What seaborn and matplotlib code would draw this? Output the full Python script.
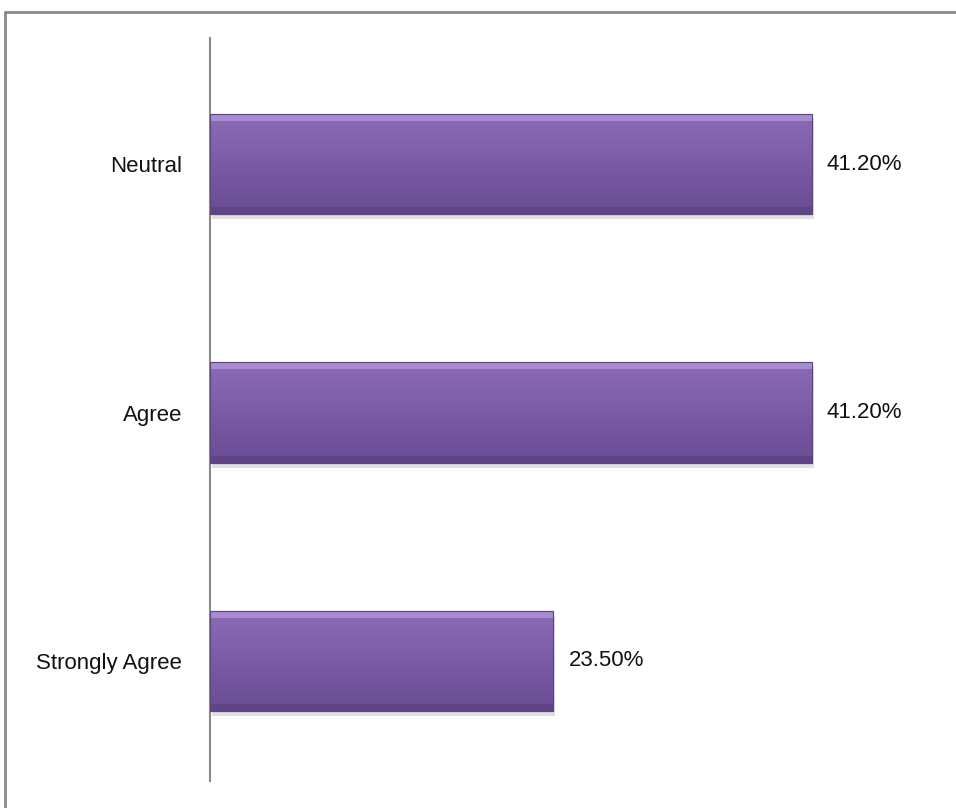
import numpy as np
import pandas as pd
import matplotlib
matplotlib.use("Agg")
import matplotlib.pyplot as plt
import seaborn as sns
from matplotlib.lines import Line2D
from matplotlib.colors import LinearSegmentedColormap

categories = ["Neutral", "Agree", "Strongly Agree"]
values = [41.2, 41.2, 23.5]
value_labels = ["41.20%", "41.20%", "23.50%"]

df = pd.DataFrame({"category": categories, "value": values})

sns.set_theme(style="white")
plt.rcParams["font.family"] = ["Liberation Sans", "DejaVu Sans"]

fig = plt.figure(figsize=(9.56, 8.08), dpi=100)
ax = fig.add_axes([210 / 956, 23 / 808, (940 - 210) / 956, (768 - 23) / 808])

sns.barplot(data=df, x="value", y="category", orient="h", color="#7E5FA8",
            width=0.405, ax=ax, edgecolor="#5E4484", linewidth=0.8, saturation=1)

ax.set_xlim(0, 50)
ax.set_xlabel("")
ax.set_ylabel("")
ax.set_xticks([])
for s in ["top", "right", "bottom"]:
    ax.spines[s].set_visible(False)
ax.spines["left"].set_color("#8a8a8a")
ax.spines["left"].set_linewidth(1.5)
ax.spines["left"].set_bounds(2.485, -0.51)
ax.tick_params(axis="y", length=0, pad=20, labelsize=16, labelcolor="#111111")

# gradient overlay + shadow on each bar, from the bar geometry
cmap = LinearSegmentedColormap.from_list("pur", ["#8B6BB5", "#8061AC", "#74569F", "#684C92"])
grad = np.linspace(0, 1, 256).reshape(-1, 1)
for p in list(ax.patches):
    x0, y0 = p.get_x(), p.get_y()
    w, h = p.get_width(), p.get_height()
    # shadow
    ax.add_patch(plt.Rectangle((x0 + 0.15, y0 + 0.02), w, h, color="#000000",
                               alpha=0.12, zorder=1, linewidth=0))
    im = ax.imshow(grad, cmap=cmap, aspect="auto",
                   extent=(x0, x0 + w, y0 + h, y0), zorder=3, origin="upper")
    im.set_clip_path(p)
    p.set_zorder(2)
    # top highlight strip and bottom dark strip
    ax.add_patch(plt.Rectangle((x0, y0), w, h * 0.07, color="#B397DD",
                               alpha=0.75, zorder=4, linewidth=0))
    ax.add_patch(plt.Rectangle((x0, y0 + h * 0.93), w, h * 0.07, color="#5A417E",
                               alpha=0.6, zorder=4, linewidth=0))
    ax.add_patch(plt.Rectangle((x0, y0), w, h, fill=False, edgecolor="#5E4484",
                               linewidth=0.8, zorder=5))

ax.set_ylim(2.5, -0.5)
ax.bar_label(ax.containers[0], labels=value_labels, padding=11, fontsize=16,
             color="#111111")

# outer frame
fig.add_artist(Line2D([5 / 956, 1], [1 - 12 / 808, 1 - 12 / 808],
                      transform=fig.transFigure, color="#8a8a8a", linewidth=2))
fig.add_artist(Line2D([5 / 956, 5 / 956], [0, 1 - 12 / 808],
                      transform=fig.transFigure, color="#8a8a8a", linewidth=2))

fig.savefig("out.png", dpi=100)
